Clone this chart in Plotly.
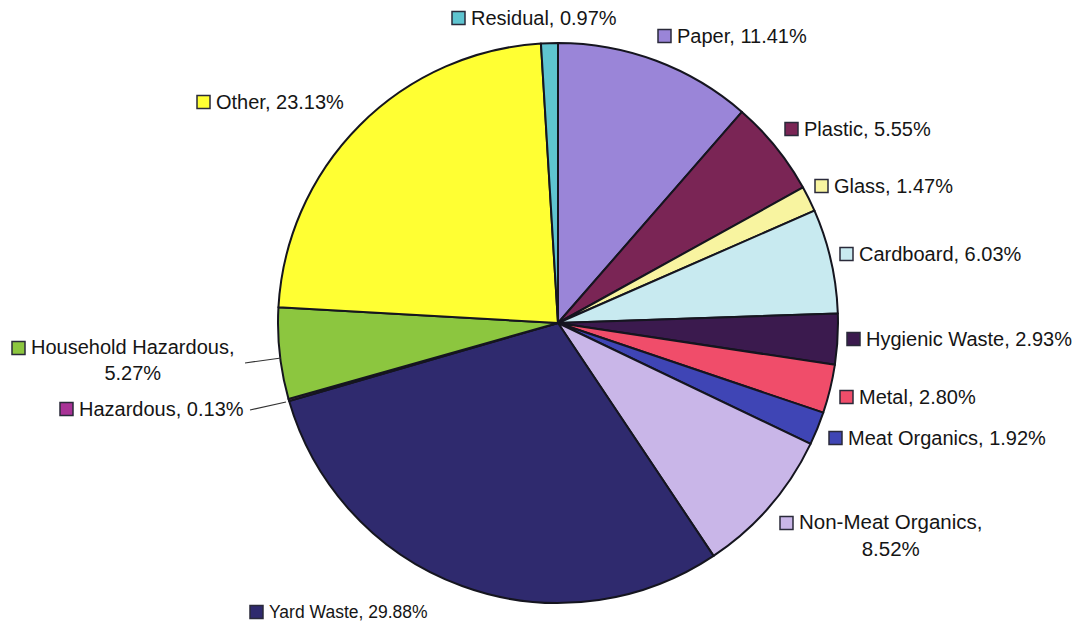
import plotly.graph_objects as go

# Waste composition by material category (percent of total)
categories = ["Paper", "Plastic", "Glass", "Cardboard", "Hygienic Waste", "Metal",
              "Meat Organics", "Non-Meat Organics", "Yard Waste", "Hazardous",
              "Household Hazardous", "Other", "Residual"]
shares = [11.41, 5.55, 1.47, 6.03, 2.93, 2.80, 1.92, 8.52, 29.88, 0.13, 5.27, 23.13, 0.97]
colors = ["#9A85D8", "#7A2555", "#F8F4A0", "#C8EAF0", "#3B1A4E", "#F04D6A",
          "#3F45B5", "#C9B6E8", "#2F2A6E", "#A83296", "#8CC63F", "#FFFF33", "#5FC4D0"]

W, H = 1079, 626
CX, CY, R = 558, 323, 280


def px(x, y):
    """Convert pixel coordinates (origin top-left) to paper coordinates."""
    return x / W, 1 - y / H


fig = go.Figure(go.Pie(
    labels=categories,
    values=shares,
    sort=False,
    direction="clockwise",
    rotation=0,
    marker=dict(colors=colors, line=dict(color="#15151F", width=2)),
    textinfo="none",
    hoverinfo="label+percent",
    domain=dict(x=[(CX - R) / W, (CX + R) / W], y=[1 - (CY + R) / H, 1 - (CY - R) / H]),
    showlegend=False,
))

# Label layout: (left edge of legend square, vertical centre of first line, wrap, font size)
label_pos = {
    "Residual": (452, 18, False, 20),
    "Paper": (658, 36, False, 20),
    "Plastic": (785, 129, False, 20),
    "Glass": (815, 186, False, 20),
    "Cardboard": (840, 254, False, 20),
    "Hygienic Waste": (847, 339, False, 20),
    "Metal": (840, 397, False, 20),
    "Meat Organics": (829, 438, False, 20),
    "Non-Meat Organics": (780, 523, True, 20.5),
    "Yard Waste": (250, 612, False, 17.5),
    "Hazardous": (60, 409, False, 20),
    "Household Hazardous": (12, 348, True, 20),
    "Other": (197, 102, False, 20),
}

SQ = 13
annotations = []
shapes = []
for name, val, col in zip(categories, shares, colors):
    sx, sy, wrap, fsize = label_pos[name]
    x0, y0 = px(sx, sy - SQ / 2)
    x1, y1 = px(sx + SQ, sy + SQ / 2)
    shapes.append(dict(type="rect", xref="paper", yref="paper",
                       x0=x0, x1=x1, y0=y1, y1=y0,
                       fillcolor=col, line=dict(color="#2A2A3A", width=1.5)))
    pct = f"{val:.2f}%"
    if wrap:
        text = f"{name},<br>{pct}"
        tx, ty = px(sx + SQ + 4, sy + 12)
    else:
        text = f"{name}, {pct}"
        tx, ty = px(sx + SQ + 4, sy)
    annotations.append(dict(text=text, x=tx, y=ty, xref="paper", yref="paper",
                            xanchor="left", yanchor="middle", align="center",
                            showarrow=False,
                            font=dict(family="Liberation Sans, Arial", size=fsize, color="#151515")))

# Leader lines for the two thin slices on the left
for (xa, ya), (xb, yb) in [((245, 363), (281, 358)), ((250, 410), (286, 402))]:
    a = px(xa, ya)
    b = px(xb, yb)
    shapes.append(dict(type="line", xref="paper", yref="paper",
                       x0=a[0], y0=a[1], x1=b[0], y1=b[1],
                       line=dict(color="#333333", width=1.2)))

fig.update_layout(
    width=W, height=H,
    margin=dict(l=0, r=0, t=0, b=0),
    paper_bgcolor="white",
    plot_bgcolor="white",
    annotations=annotations,
    shapes=shapes,
)

fig.write_html("out.html")
